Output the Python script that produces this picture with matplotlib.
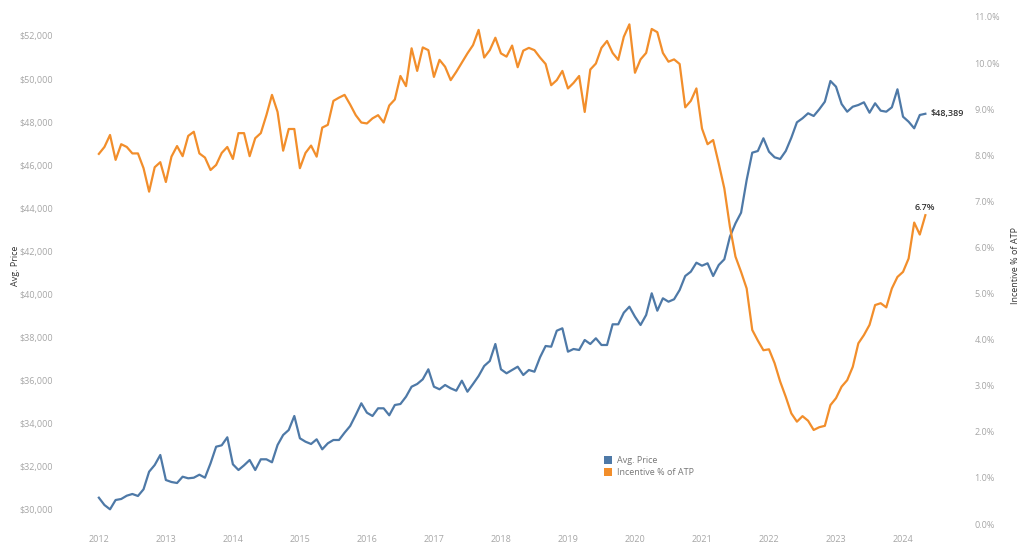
import matplotlib
matplotlib.use("Agg")
import matplotlib.pyplot as plt
import matplotlib.ticker as mticker
from matplotlib.patches import Patch

# monthly data, Jan 2012 .. May 2024
start_year = 2012
avg_price = [
    30571, 30232, 30032, 30464, 30511, 30664, 30743, 30650, 30961, 31778, 32088, 32553,
    31392, 31299, 31253, 31545, 31471, 31499, 31638, 31499, 32167, 32938, 33003, 33374,
    32121, 31856, 32074, 32320, 31856, 32353, 32353, 32214, 33017, 33481, 33713, 34363,
    33328, 33170, 33063, 33281, 32817, 33095, 33249, 33249, 33588, 33898, 34409, 34952,
    34516, 34363, 34720, 34720, 34395, 34873, 34919, 35258, 35722, 35848, 36066, 36530,
    35722, 35602, 35801, 35648, 35537, 36001, 35490, 35848, 36219, 36683, 36915, 37704,
    36530, 36344, 36497, 36651, 36265, 36497, 36418, 37087, 37611, 37579, 38321, 38433,
    37347, 37472, 37426, 37890, 37704, 37969, 37658, 37658, 38618, 38618, 39157, 39435,
    38971, 38586, 39050, 40057, 39250, 39825, 39667, 39779, 40210, 40860, 41060, 41477,
    41338, 41449, 40860, 41370, 41635, 42684, 43306, 43798, 45315, 46583, 46661, 47251,
    46629, 46369, 46290, 46661, 47278, 47993, 48179, 48411, 48286, 48597, 48949, 49910,
    49645, 48843, 48485, 48717, 48796, 48921, 48439, 48875, 48532, 48485, 48690, 49525,
    48253, 48021, 47715, 48332, 48389,
]
incentive_pct = [
    8.03, 8.18, 8.44, 7.90, 8.24, 8.18, 8.04, 8.04, 7.72, 7.21, 7.74, 7.85,
    7.42, 7.97, 8.20, 7.98, 8.42, 8.51, 8.04, 7.95, 7.68, 7.79, 8.05, 8.18,
    7.92, 8.48, 8.48, 7.98, 8.37, 8.48, 8.87, 9.31, 8.94, 8.10, 8.57, 8.57,
    7.72, 8.05, 8.21, 7.97, 8.60, 8.66, 9.18, 9.25, 9.31, 9.10, 8.87, 8.71,
    8.69, 8.80, 8.87, 8.71, 9.08, 9.21, 9.72, 9.50, 10.32, 9.83, 10.34, 10.28,
    9.70, 10.07, 9.92, 9.63, 9.81, 10.01, 10.21, 10.39, 10.72, 10.12, 10.28, 10.55,
    10.21, 10.14, 10.38, 9.91, 10.27, 10.33, 10.28, 10.12, 9.98, 9.52, 9.63, 9.83,
    9.45, 9.57, 9.72, 8.94, 9.86, 9.99, 10.33, 10.48, 10.22, 10.07, 10.57, 10.84,
    9.79, 10.08, 10.22, 10.74, 10.67, 10.22, 10.03, 10.08, 9.98, 9.04, 9.18, 9.45,
    8.58, 8.24, 8.33, 7.82, 7.28, 6.45, 5.80, 5.47, 5.11, 4.21, 3.98, 3.77,
    3.79, 3.49, 3.09, 2.76, 2.40, 2.22, 2.34, 2.24, 2.04, 2.10, 2.13, 2.58,
    2.73, 2.98, 3.12, 3.41, 3.92, 4.10, 4.32, 4.75, 4.79, 4.70, 5.11, 5.36,
    5.47, 5.76, 6.54, 6.28, 6.70,
]
years = list(range(2012, 2025))
price_ticks = list(range(30000, 52001, 2000))
pct_ticks = list(range(0, 12))

BLUE = "#4e79a7"
ORANGE = "#f28e2b"
TICK_GRAY = "#a6a6a6"

plt.rcParams["font.family"] = ["Open Sans", "DejaVu Sans"]

t = [start_year + i / 12 for i in range(len(avg_price))]

fig = plt.figure(figsize=(10.24, 5.49), dpi=100)
ax = fig.add_axes([62 / 1024, 22 / 549, 900 / 1024, 522 / 549])
ax2 = ax.twinx()

ax.plot(t, avg_price, color=BLUE, lw=1.6, solid_joinstyle="round")
ax2.plot(t, incentive_pct, color=ORANGE, lw=1.6, solid_joinstyle="round")

ax.set_xlim(2011.45, 2024.88)
ax.set_ylim(29211, 53437)
ax2.set_ylim(-0.065, 11.26)

ax.set_xticks(years)
ax.set_xticklabels([str(y) for y in years])
ax.set_yticks(price_ticks)
ax.yaxis.set_major_formatter(mticker.FuncFormatter(lambda v, p: f"${v:,.0f}"))
ax2.set_yticks(pct_ticks)
ax2.yaxis.set_major_formatter(mticker.FuncFormatter(lambda v, p: f"{v:.1f}%"))

for a in (ax, ax2):
    for s in a.spines.values():
        s.set_visible(False)
    a.tick_params(length=0, labelsize=6.5, labelcolor=TICK_GRAY)
ax.tick_params(axis="y", pad=6.5)
ax.tick_params(axis="x", pad=6)
ax2.tick_params(axis="y", pad=9)

ax.set_ylabel("Avg. Price", fontsize=6.5, color="#333333")
ax.yaxis.set_label_coords(-0.047, 0.5)
ax2.set_ylabel("Incentive % of ATP", fontsize=6.5, color="#333333")
ax2.yaxis.set_label_coords(1.054, 0.5)

# end labels
ax.annotate(f"${avg_price[-1]:,}", (t[-1], avg_price[-1]), xytext=(4, 0),
            textcoords="offset points", fontsize=6.5, color="#333333",
            fontweight="semibold", va="center", ha="left")
ax2.annotate(f"{incentive_pct[-1]:.1f}%", (t[-1], incentive_pct[-1]), xytext=(0, 2),
             textcoords="offset points", fontsize=6.5, color="#333333",
             fontweight="semibold", va="bottom", ha="center")

handles = [Patch(facecolor=BLUE, label="Avg. Price"),
           Patch(facecolor=ORANGE, label="Incentive % of ATP")]
leg = fig.legend(handles=handles, loc="upper left", bbox_to_anchor=(596 / 1024, 1 - 448 / 549),
                 frameon=False, fontsize=6.5, handlelength=0.9, handleheight=0.9,
                 handletextpad=0.5, labelspacing=0.35)
for txt in leg.get_texts():
    txt.set_color("#777777")

fig.savefig("out.png", dpi=100, facecolor="white")
